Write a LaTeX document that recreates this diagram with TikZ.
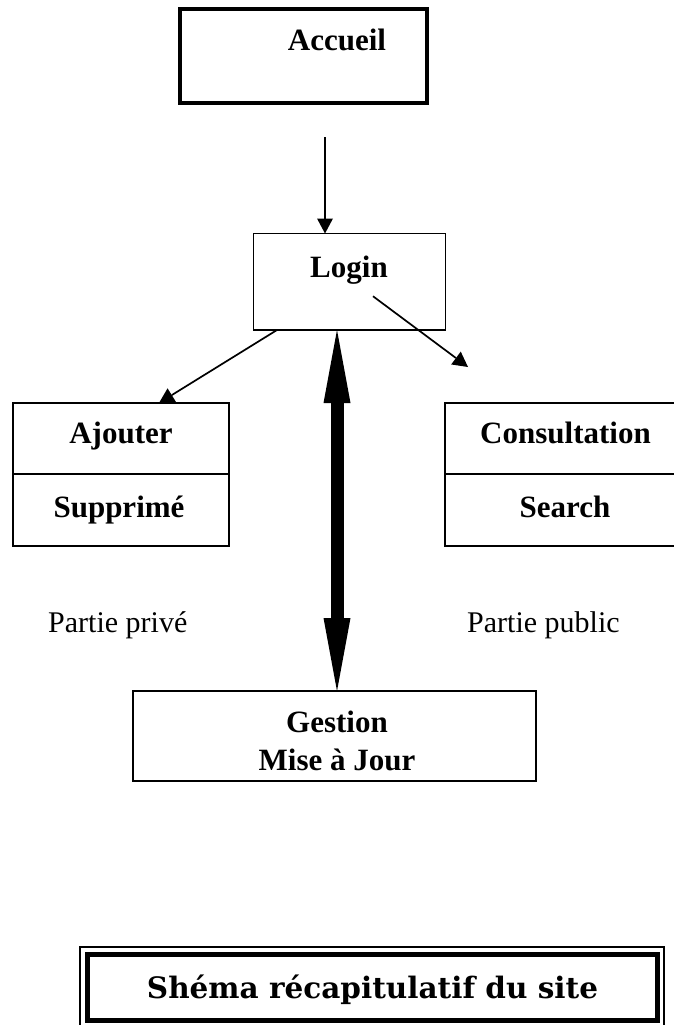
\documentclass[tikz,border=0pt]{standalone}
\usepackage{fontspec}
\setmainfont{Liberation Serif}
\newfontfamily\titlefont{DejaVu Serif}
\usetikzlibrary{arrows.meta}
\begin{document}
\begin{tikzpicture}[x=1pt,y=-1pt,
  box/.style={draw, line width=1.8pt, inner sep=0pt, outer sep=0pt},
  lbl/.style={font=\fontsize{31}{31}\selectfont\bfseries, anchor=base, inner sep=0pt},
  plainlbl/.style={font=\fontsize{30}{30}\selectfont, anchor=base west, inner sep=0pt},
  thinarrow/.style={line width=1.7pt, -{Triangle[width=16pt,length=15pt,line width=0pt]}},
  thickarrow/.style={line width=13pt, {Triangle[width=27pt,length=73pt,line width=0pt]}-{Triangle[width=27pt,length=73pt,line width=0pt]}}]
\useasboundingbox (0,0) rectangle (673,1025);
\fill[white] (0,0) rectangle (673,1025);

% boxes
\node[box, line width=3.8pt, minimum width=247pt, minimum height=94pt] (accueil) at (303.5,56) {};
\node[box, minimum width=192pt, minimum height=96.5pt] (login) at (349.5,281.75) {};
\node[box, minimum width=216pt, minimum height=71pt] (ajouter) at (121,438.5) {};
\node[box, minimum width=216pt, minimum height=72pt] (supprime) at (121,510) {};
\node[box, minimum width=236pt, minimum height=71pt] (consult) at (563,438.5) {};
\node[box, minimum width=236pt, minimum height=72pt] (search) at (563,510) {};
\node[box, minimum width=403pt, minimum height=90pt] (gestion) at (334.5,736) {};
\node[box, line width=1.2pt, minimum width=584pt, minimum height=81pt] (titleout) at (372,987.5) {};
\node[box, line width=5pt, minimum width=570pt, minimum height=66pt] (titlein) at (372,987.5) {};

% labels
\node[lbl] (taccueil) at (337,51) {Accueil};
\node[lbl] (tlogin) at (349,277) {Login};
\node[lbl] (tajouter) at (121,443) {Ajouter};
\node[lbl] (tsupprime) at (119,517) {Supprimé};
\node[lbl] (tconsult) at (565.5,443) {Consultation};
\node[lbl] (tsearch) at (565,517) {Search};
\node[lbl] (tgestion) at (337,732) {Gestion};
\node[lbl] (tmise) at (337,770) {Mise à Jour};
\node[plainlbl] (tprive) at (48,632) {Partie privé};
\node[plainlbl] (tpublic) at (467,632) {Partie public};
\node[font=\titlefont\fontsize{29.5}{29.5}\selectfont\bfseries, anchor=base, inner sep=0pt] (ttitle) at (372.5,998) {Shéma récapitulatif du site};

% connectors
\coordinate (pubtip) at ([shift={(-95,-36)}]consult.north);
\draw[thinarrow, shorten <=34pt] ([xshift=21.5pt]accueil.south) -- ([xshift=-24.5pt]login.north);
\draw[thinarrow] ([xshift=-72.5pt]login.south) -- ([xshift=38pt]ajouter.north);
\draw[thinarrow] ([shift={(23.5,14.5)}]login.center) -- (pubtip);
\draw[thickarrow] ([xshift=-12.5pt]login.south) -- ([xshift=2.5pt]gestion.north);
\end{tikzpicture}
\end{document}
